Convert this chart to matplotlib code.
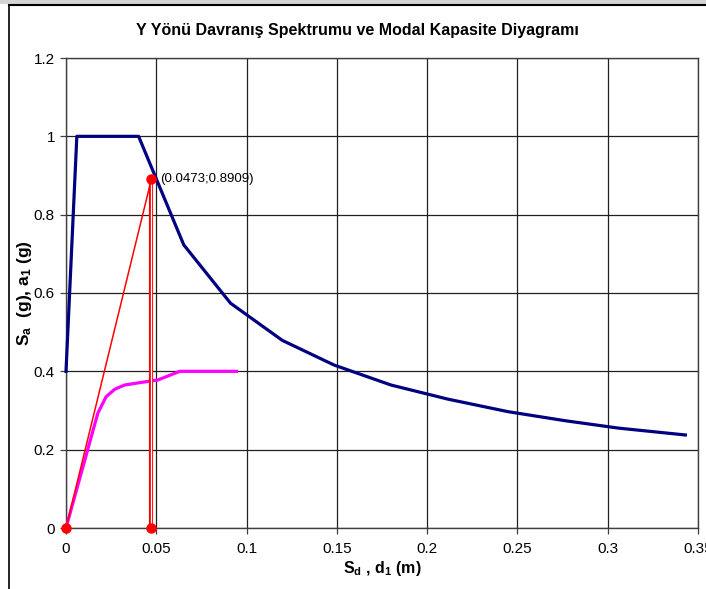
import matplotlib
matplotlib.use("Agg")
import matplotlib.pyplot as plt
from matplotlib.patches import Rectangle
from matplotlib.lines import Line2D

plt.rcParams['font.family'] = ['Liberation Sans', 'DejaVu Sans']
plt.rcParams['mathtext.fontset'] = 'custom'
plt.rcParams['mathtext.rm'] = 'Liberation Sans'
plt.rcParams['mathtext.bf'] = 'Liberation Sans:bold'
plt.rcParams['mathtext.it'] = 'Liberation Sans:italic'

# Spectrum (Sd, Sa)
spec_sd = [0.0, 0.0060, 0.0402, 0.0652, 0.0911, 0.1198, 0.1485, 0.1800, 0.2115,
           0.2448, 0.2763, 0.3060, 0.3430]
spec_sa = [0.40, 1.00, 1.00, 0.723, 0.574, 0.479, 0.416, 0.365, 0.329,
           0.297, 0.274, 0.255, 0.2375]

# Modal capacity (d1, a1)
cap_d = [0.0, 0.0176, 0.0222, 0.0269, 0.0324, 0.0407, 0.0509, 0.0630, 0.0944]
cap_a = [0.0, 0.293, 0.335, 0.354, 0.365, 0.371, 0.378, 0.400, 0.400]

# Performance point
perf_x = 0.0473
perf_y = 0.8909
perf_label = "(0.0473;0.8909)"

xticks = [0, 0.05, 0.1, 0.15, 0.2, 0.25, 0.3, 0.35]
xticklabels = ["0", "0.05", "0.1", "0.15", "0.2", "0.25", "0.3", "0.35"]
yticks = [0, 0.2, 0.4, 0.6, 0.8, 1.0, 1.2]
yticklabels = ["0", "0.2", "0.4", "0.6", "0.8", "1", "1.2"]

title = "Y Yönü Davranış Spektrumu ve Modal Kapasite Diyagramı"

W, H = 706, 589
fig = plt.figure(figsize=(W / 100, H / 100), dpi=100)

# chart-area frame (Excel style)
fig.patches.append(Rectangle((0, 1 - 4 / H), 1, 4 / H, transform=fig.transFigure,
                             facecolor='#d4d4d4', edgecolor='none', zorder=0))
fig.add_artist(Line2D([9 / W, 1], [1 - 4.5 / H, 1 - 4.5 / H], transform=fig.transFigure,
                      color='black', lw=1.5))
fig.add_artist(Line2D([9 / W, 9 / W], [0, 1 - 4.5 / H], transform=fig.transFigure,
                      color='black', lw=1.2))

ax = fig.add_axes([66 / W, 1 - 528 / H, (698 - 66) / W, (528 - 58) / H])
ax.set_xlim(0, 0.35)
ax.set_ylim(0, 1.2)
ax.set_xticks(xticks)
ax.set_xticklabels(xticklabels)
ax.set_yticks(yticks)
ax.set_yticklabels(yticklabels)
ax.grid(True, color='#202020', lw=0.9)
ax.set_axisbelow(True)
for s in ax.spines.values():
    s.set_color('#404040')
    s.set_linewidth(1.0)
ax.tick_params(axis='both', direction='out', length=4, width=0.9, color='#404040',
               labelsize=11, pad=6)
ax.tick_params(axis='y', pad=4)

ax.plot(spec_sd, spec_sa, color='#000080', lw=2.3, zorder=3, clip_on=False,
        solid_joinstyle='round')
ax.plot(cap_d, cap_a, color='#FF00FF', lw=2.3, zorder=3, clip_on=False,
        solid_joinstyle='round')
# red construction lines
ax.plot([0, perf_x], [0, perf_y], color='#FF0000', lw=1.1, zorder=4, clip_on=False)
ax.plot([perf_x, perf_x], [0, perf_y], color='#FF0000', lw=3.0, zorder=4, clip_on=False)
ax.plot([perf_x, perf_x], [0, perf_y], color='white', lw=0.9, zorder=4, clip_on=False)
ax.plot([0, perf_x, perf_x], [0, 0, perf_y], linestyle='none', marker='o',
        color='#FF0000', markersize=6.5, zorder=5, clip_on=False)
ax.annotate(perf_label, xy=(perf_x, perf_y), xytext=(6, 0), textcoords='offset points',
            fontsize=9.5, va='center', ha='left', color='black')

fig.text(357 / W, 1 - 31 / H, title, ha='center', va='center', fontsize=11.5,
         fontweight='bold')
ax.set_xlabel(r'$\mathbf{S_d}$ , $\mathbf{d_1}$ (m)', fontsize=11.5, fontweight='bold',
              labelpad=2)
ax.set_ylabel(r'$\mathbf{S_a}$  (g), $\mathbf{a_1}$ (g)', fontsize=12.5, fontweight='bold',
              labelpad=0)

fig.savefig('out.png', dpi=100)
